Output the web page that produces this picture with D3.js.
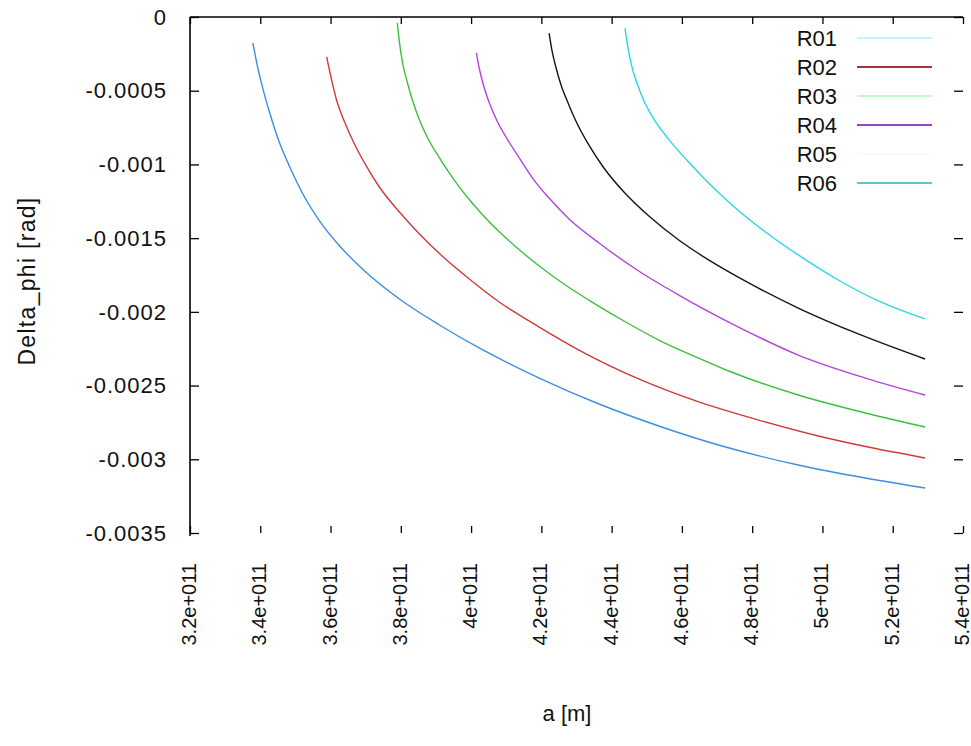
<!DOCTYPE html>
<html>
<head>
<meta charset="utf-8">
<script src="https://cdn.jsdelivr.net/npm/d3@7"></script>
<style>
body { margin: 0; background: #fff; }
text { font-family: "Liberation Sans", Arial, sans-serif; fill: #111; }
</style>
</head>
<body>
<div id="chart"></div>
<script>
var seriesNames = ["R01", "R02", "R03", "R04", "R05", "R06"];

var xTicks = [3.2e11, 3.4e11, 3.6e11, 3.8e11, 4.0e11, 4.2e11, 4.4e11, 4.6e11, 4.8e11, 5.0e11, 5.2e11, 5.4e11];
var xTickLabels = ["3.2e+011", "3.4e+011", "3.6e+011", "3.8e+011", "4e+011", "4.2e+011",
	"4.4e+011", "4.6e+011", "4.8e+011", "5e+011", "5.2e+011", "5.4e+011"];
var yTicks = [0, -0.0005, -0.001, -0.0015, -0.002, -0.0025, -0.003, -0.0035];
var yTickLabels = ["0", "-0.0005", "-0.001", "-0.0015", "-0.002", "-0.0025", "-0.003", "-0.0035"];

// a [m] and Delta_phi [rad]
var aR01 = [3.379e11, 3.393e11, 3.407e11, 3.427e11, 3.455e11, 3.484e11, 3.526e11, 3.569e11, 3.626e11, 3.697e11,
	3.796e11, 3.910e11, 4.023e11, 4.194e11, 4.364e11, 4.534e11, 4.704e11, 4.931e11, 5.122e11, 5.292e11];
var phiR01 = [-0.000176, -0.000346, -0.000482, -0.000651, -0.000855, -0.001017, -0.001221, -0.001384, -0.001553, -0.001723,
	-0.001913, -0.002089, -0.002245, -0.002449, -0.002625, -0.002774, -0.002903, -0.003039, -0.003127, -0.003195];

var aR02 = [3.589e11, 3.603e11, 3.617e11, 3.640e11, 3.668e11, 3.702e11, 3.739e11, 3.796e11, 3.853e11, 3.924e11,
	3.995e11, 4.080e11, 4.194e11, 4.307e11, 4.477e11, 4.648e11, 4.818e11, 4.988e11, 5.130e11, 5.292e11];
var phiR02 = [-0.000271, -0.000427, -0.000563, -0.000712, -0.000861, -0.001011, -0.001153, -0.001323, -0.001472, -0.001635,
	-0.001777, -0.001933, -0.002103, -0.002259, -0.002455, -0.002611, -0.002734, -0.002842, -0.002917, -0.002991];

var aR03 = [3.790e11, 3.796e11, 3.805e11, 3.819e11, 3.833e11, 3.853e11, 3.881e11, 3.910e11, 3.952e11, 4.003e11, 4.052e11,
	4.128e11, 4.194e11, 4.264e11, 4.335e11, 4.435e11, 4.534e11, 4.633e11, 4.733e11, 4.931e11, 5.122e11, 5.292e11];
var phiR03 = [-0.000041, -0.00017, -0.000312, -0.000448, -0.000563, -0.000699, -0.000841, -0.000956, -0.001106, -0.001262, -0.001391,
	-0.00156, -0.001689, -0.001811, -0.00192, -0.002062, -0.002191, -0.002299, -0.002401, -0.002564, -0.002686, -0.002781];

var aR04 = [4.015e11, 4.023e11, 4.035e11, 4.052e11, 4.074e11, 4.103e11, 4.137e11, 4.179e11, 4.222e11,
	4.279e11, 4.364e11, 4.477e11, 4.591e11, 4.761e11, 4.931e11, 5.122e11, 5.292e11];
var phiR04 = [-0.000244, -0.000346, -0.000461, -0.000583, -0.000705, -0.000828, -0.000956, -0.001106, -0.001228,
	-0.00137, -0.001533, -0.001723, -0.001886, -0.002103, -0.002293, -0.002449, -0.002564];

var aR05 = [4.222e11, 4.230e11, 4.242e11, 4.256e11, 4.276e11, 4.301e11, 4.335e11, 4.378e11, 4.435e11,
	4.506e11, 4.591e11, 4.676e11, 4.790e11, 4.931e11, 5.102e11, 5.292e11];
var phiR05 = [-0.000109, -0.000224, -0.000346, -0.000461, -0.000583, -0.000719, -0.000868, -0.001024, -0.001187,
	-0.00135, -0.001513, -0.001648, -0.001804, -0.001974, -0.00215, -0.00232];

var aR06 = [4.438e11, 4.446e11, 4.457e11, 4.472e11, 4.492e11, 4.520e11, 4.562e11, 4.619e11, 4.676e11,
	4.733e11, 4.790e11, 4.861e11, 4.931e11, 5.045e11, 5.159e11, 5.292e11];
var phiR06 = [-0.000075, -0.000203, -0.000332, -0.000448, -0.00057, -0.000692, -0.000828, -0.000984, -0.001126,
	-0.001255, -0.00137, -0.001499, -0.001614, -0.001784, -0.001926, -0.002048];

var curveColors = ["#3b8fe4", "#d23a3a", "#3cc03c", "#b244e2", "#151515", "#2cd6e6"];
var legendColors = ["#c4f4f8", "#a83434", "#c4f8c4", "#9a46c4", "#fafafa", "#62c6c6"];

var width = 971, height = 746;
var plotLeft = 190, plotRight = 963, plotTop = 17, plotBottom = 533;

var series = [[aR01, phiR01], [aR02, phiR02], [aR03, phiR03], [aR04, phiR04], [aR05, phiR05], [aR06, phiR06]]
	.map(function(s, i) {
		return { name: seriesNames[i], points: s[0].map(function(a, j) { return [a, s[1][j]]; }) };
	});

var x = d3.scaleLinear().domain([3.2e11, 5.4e11]).range([plotLeft, plotRight]);
var y = d3.scaleLinear().domain([-0.0035, 0]).range([plotBottom, plotTop]);

var svg = d3.select("#chart").append("svg")
	.attr("width", width)
	.attr("height", height);

// inward ticks on all four sides
svg.append("g").attr("transform", "translate(0," + plotBottom + ")")
	.call(d3.axisBottom(x).tickValues(xTicks).tickSize(-7).tickFormat(""));
svg.append("g").attr("transform", "translate(0," + plotTop + ")")
	.call(d3.axisTop(x).tickValues(xTicks).tickSize(-7).tickFormat(""));
svg.append("g").attr("transform", "translate(" + plotLeft + ",0)")
	.call(d3.axisLeft(y).tickValues(yTicks).tickSize(-9).tickFormat(""));
svg.append("g").attr("transform", "translate(" + plotRight + ",0)")
	.call(d3.axisRight(y).tickValues(yTicks).tickSize(-9).tickFormat(""));
svg.selectAll(".domain").remove();
svg.selectAll(".tick line").attr("stroke", "#000").attr("stroke-width", 1.3);

// border: only the left and top sides show
svg.append("line")
	.attr("x1", plotLeft).attr("y1", plotTop).attr("x2", plotLeft).attr("y2", plotBottom + 3)
	.attr("stroke", "#000").attr("stroke-width", 1.6);
svg.append("line")
	.attr("x1", plotLeft).attr("y1", plotTop).attr("x2", plotRight).attr("y2", plotTop)
	.attr("stroke", "#000").attr("stroke-width", 1.6);

svg.selectAll(".ylab")
	.data(yTicks)
	.enter()
	.append("text")
	.attr("x", plotLeft - 23)
	.attr("y", function(d) { return y(d); })
	.attr("dy", "0.35em")
	.attr("text-anchor", "end")
	.style("font-size", "22px")
	.style("letter-spacing", "1px")
	.text(function(d, i) { return yTickLabels[i]; });

svg.selectAll(".xlab")
	.data(xTicks)
	.enter()
	.append("text")
	.attr("transform", function(d) { return "translate(" + x(d) + ",563) rotate(-90)"; })
	.attr("dy", "0.3em")
	.attr("text-anchor", "end")
	.style("font-size", "20px")
	.text(function(d, i) { return xTickLabels[i]; });

svg.append("text")
	.attr("transform", "translate(27,281) rotate(-90)")
	.attr("dy", "0.35em")
	.attr("text-anchor", "middle")
	.style("font-size", "23px")
	.style("letter-spacing", "1.3px")
	.text("Delta_phi [rad]");

svg.append("text")
	.attr("x", 567)
	.attr("y", 713)
	.attr("dy", "0.35em")
	.attr("text-anchor", "middle")
	.style("font-size", "22px")
	.text("a [m]");

var line = d3.line()
	.x(function(d) { return x(d[0]); })
	.y(function(d) { return y(d[1]); })
	.curve(d3.curveMonotoneX);

svg.selectAll(".curve")
	.data(series)
	.enter()
	.append("path")
	.attr("fill", "none")
	.attr("stroke", function(d, i) { return curveColors[i]; })
	.attr("stroke-width", 1.4)
	.attr("d", function(d) { return line(d.points); });

var legend = svg.selectAll(".key")
	.data(series)
	.enter()
	.append("g")
	.attr("transform", function(d, i) { return "translate(0," + (38 + i * 29) + ")"; });

legend.append("text")
	.attr("x", 837)
	.attr("dy", "0.35em")
	.attr("text-anchor", "end")
	.style("font-size", "22px")
	.text(function(d) { return d.name; });

legend.append("line")
	.attr("x1", 857).attr("x2", 932)
	.attr("stroke", function(d, i) { return legendColors[i]; })
	.attr("stroke-width", 2);
</script>
</body>
</html>
